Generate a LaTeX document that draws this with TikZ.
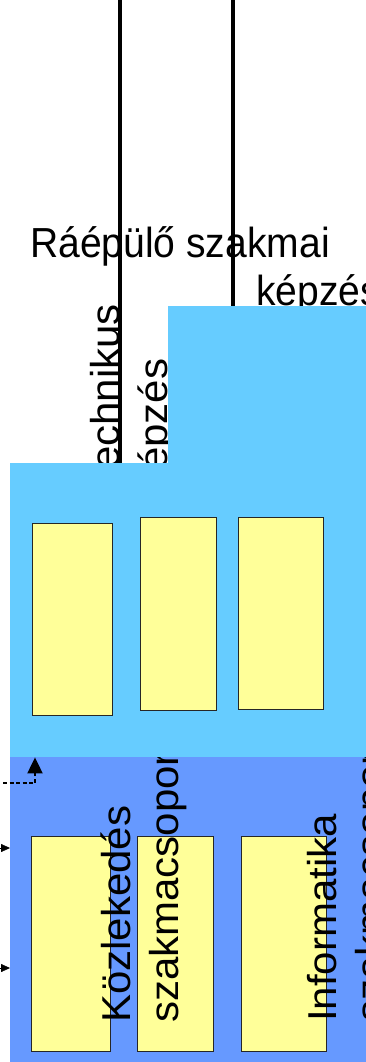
\documentclass[tikz,border=0pt]{standalone}
\usepackage{fontspec}
\setmainfont{Liberation Sans}
\usetikzlibrary{arrows.meta,positioning}
\definecolor{egkek}{HTML}{66CCFF}
\definecolor{sotetkek}{HTML}{6699FF}
\definecolor{sarga}{HTML}{FFFF99}
\pgfdeclarelayer{back}
\pgfdeclarelayer{front}
\pgfsetlayers{back,main,front}

\begin{document}
\begin{tikzpicture}[x=1pt,y=-1pt,
  panel/.style={rectangle,fill=#1,draw=none,inner sep=0pt,anchor=north west},
  slot/.style={rectangle,draw=black!85,fill=sarga,line width=0.8pt,
    inner sep=0pt,anchor=north west},
  lbl/.style={inner sep=0pt,anchor=base west,font=\fontsize{42}{48}\selectfont},
  hlbl/.style={lbl,xscale=0.93},
  vlbl/.style={lbl,rotate=90,yscale=0.96},
  vonal/.style={line width=4pt,black}
]
\useasboundingbox (0,0) rectangle (366,1062);

% alsó szint
\begin{pgfonlayer}{back}
\node[panel=sotetkek,minimum width=380pt,minimum height=320pt] (alap) at (10,757) {};
\node[slot,minimum width=79pt,minimum height=215pt] (a1) at (31,836) {};
\node[slot,minimum width=76pt,minimum height=215pt] (a2) at (137,836) {};
\node[slot,minimum width=85pt,minimum height=215pt] (a3) at (241,836) {};
\end{pgfonlayer}

\node[vlbl] (kozl)  at (130,1023) {Közlekedés};
\node[vlbl] (kozls) at (178,1023) {szakmacsoport};
\node[vlbl] (info)  at (336,1022) {Informatika};
\node[vlbl] (infos) at (384,1022) {szakmacsoport};

% felső szint
\node[vlbl] (tech)  at (119,491) {Technikus};
\node[vlbl] (techk) at (167,492) {képzés};
\node[hlbl] (raep)  at (30,257)  {Ráépülő szakmai};
\node[hlbl] (raepk) at (256,305) {képzés};

\begin{pgfonlayer}{front}
\node[panel=egkek,minimum width=220pt,minimum height=200pt] (felso) at (168,306) {};
\node[panel=egkek,minimum width=380pt,minimum height=294pt] (also) at (10,463) {};
\node[slot,minimum width=80pt,minimum height=192pt] (f1) at (32,523) {};
\node[slot,minimum width=76pt,minimum height=193pt] (f2) at (140,517) {};
\node[slot,minimum width=85pt,minimum height=192pt] (f3) at (238,517) {};
\end{pgfonlayer}

\coordinate (fent1) at (120,-20);
\coordinate (fent2) at (233,-20);
\draw[vonal] (fent1) -- (fent1 |- also.north);
\draw[vonal] (fent2) -- (fent2 |- felso.north);

% bemenetek
\coordinate (be1) at (-30,848);
\coordinate (be2) at (-30,968);
\coordinate (be3) at (-10,783);
\draw[-{Triangle[length=9pt,width=8pt]}] (be1) -- (be1 -| alap.west);
\draw[-{Triangle[length=9pt,width=8pt]}] (be2) -- (be2 -| alap.west);
\draw[line width=2pt,dash pattern=on 4pt off 2.5pt,-{Triangle[length=16pt,width=15pt]}]
  (be3) -| ([xshift=25pt]also.south west);
\end{tikzpicture}
\end{document}
